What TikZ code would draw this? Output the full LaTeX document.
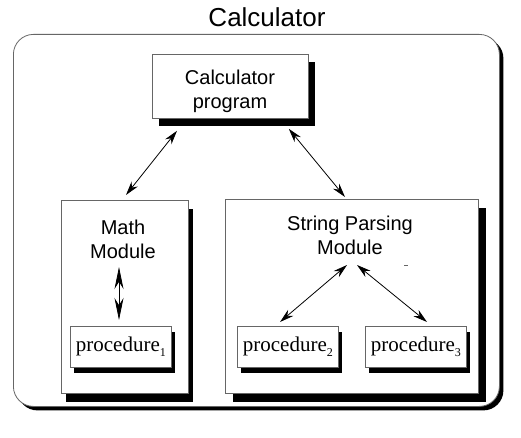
\documentclass[tikz,border=0pt]{standalone}
\usepackage{fontspec}
\setmainfont{Liberation Serif}
\setsansfont{Liberation Sans}
\usetikzlibrary{shadows,arrows.meta,calc}
\begin{document}
\begin{tikzpicture}[x=1pt,y=-1pt,
  box/.style={draw=black!60, line width=0.8pt, fill=white, inner sep=0pt, anchor=north west},
  sh/.style 2 args={drop shadow={shadow xshift=#1pt, shadow yshift=-#2pt, fill=black, opacity=1}},
  lbl/.style={font=\sffamily\fontsize{20}{24}\selectfont, align=center, inner sep=0pt},
  proc/.style={box, sh={4}{6}, minimum width=101pt, minimum height=41pt, font=\fontsize{21}{24}\selectfont},
  arr/.style={{Stealth[length=14pt,width=8pt]}-{Stealth[length=14pt,width=8pt]}, line width=0.8pt},
  varr/.style={{Stealth[length=22pt,width=9pt]}-{Stealth[length=22pt,width=9pt]}, line width=0.8pt}
]
\useasboundingbox (0,0) rectangle (521,438);
\fill[white] (0,0) rectangle (521,438);
\node[font=\sffamily\fontsize{26}{30}\selectfont, inner sep=0pt] (title) at (267,17) {Calculator};
\node[box, rounded corners=20pt, sh={4}{4}, minimum width=486pt, minimum height=372pt] (frame) at (13,34) {};
\node[box, sh={7}{8}, minimum width=156pt, minimum height=64pt] (calc) at (152,54) {};
\node[lbl] (calctxt) at (230,91) {Calculator\\program};
\node[box, sh={5}{9}, minimum width=127pt, minimum height=193pt] (math) at (61,200) {};
\node[lbl] (mathtxt) at (123,239) {Math\\Module};
\node[box, sh={8}{9}, minimum width=253pt, minimum height=194pt] (strp) at (225,199) {};
\node[lbl] (strptxt) at (350,235) {String Parsing\\Module};
\node[proc] (p1) at (70,326) {procedure\raisebox{-5pt}{\fontsize{12}{12}\selectfont 1}};
\node[proc] (p2) at (237,326) {procedure\raisebox{-5pt}{\fontsize{12}{12}\selectfont 2}};
\node[proc] (p3) at (365,326) {procedure\raisebox{-5pt}{\fontsize{12}{12}\selectfont 3}};
\draw[arr] ([shift={(25,12)}]calc.south west) -- ([shift={(65,-5)}]math.north west);
\draw[arr] ([shift={(-20,10)}]calc.south east) -- ([shift={(120,-2)}]strp.north west);
\draw[varr] ([shift={(58,67)}]math.north west) -- ([shift={(49,-6)}]p1.north west);
\draw[arr] ([shift={(122,66)}]strp.north west) -- ([shift={(43,-4)}]p2.north west);
\draw[arr] ([shift={(132,66)}]strp.north west) -- ([shift={(62,-4)}]p3.north west);
\draw[black!60, line width=1pt] ([shift={(179,66)}]strp.north west) -- ([shift={(183,66)}]strp.north west);
\end{tikzpicture}
\end{document}
